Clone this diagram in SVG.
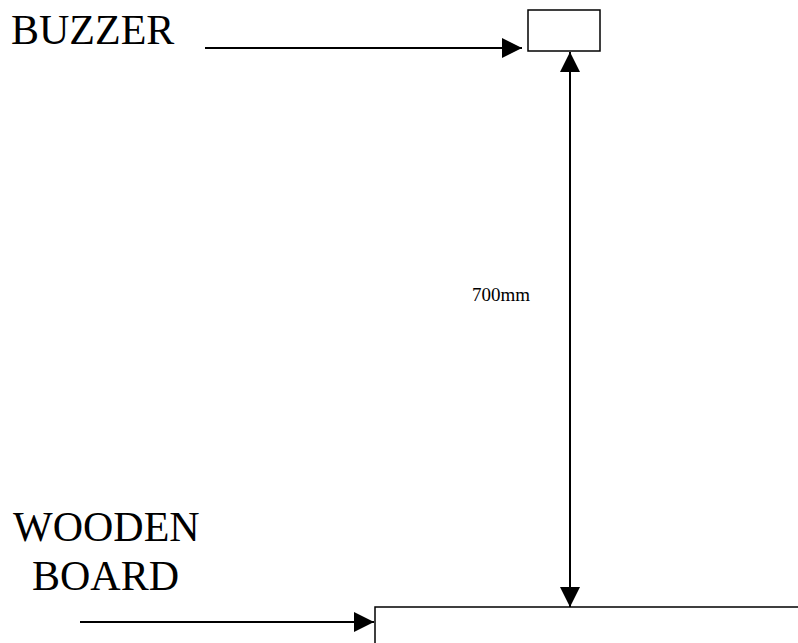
<svg xmlns="http://www.w3.org/2000/svg" width="798" height="643" viewBox="0 0 798 643">
<style>
.lbl{font-family:"Liberation Serif","Times New Roman",serif;fill:#000}
.big{font-size:42px}
.small{font-size:19px}
.ln{stroke:#000;stroke-width:2;fill:none}
.box{stroke:#000;stroke-width:1.5;fill:#fff}
</style>
<defs>
<marker id="ah2" viewBox="0 0 20 20" refX="20" refY="10" markerWidth="20" markerHeight="20" markerUnits="userSpaceOnUse" orient="auto-start-reverse">
<path d="M0,0 L20,10 L0,20 Z" fill="#000"/>
</marker>
</defs>
<rect width="798" height="643" fill="#fff"/>
<g id="buzzer">
<rect class="box" x="528" y="10" width="72" height="41"/>
</g>
<g id="board">
<rect class="box" x="375" y="607" width="440" height="60"/>
</g>
<g id="labels">
<text class="lbl big" x="11" y="44">BUZZER</text>
<text class="lbl big" x="13" y="541">WOODEN</text>
<text class="lbl big" x="32" y="590">BOARD</text>
<text class="lbl small" x="472" y="301">700mm</text>
</g>
<g id="connectors">
<line class="ln" x1="205" y1="48" x2="522" y2="48" marker-end="url(#ah2)"/>
<line class="ln" x1="570" y1="52" x2="570" y2="607" marker-start="url(#ah2)" marker-end="url(#ah2)"/>
<line class="ln" x1="80" y1="622" x2="374" y2="622" marker-end="url(#ah2)"/>
</g>
</svg>
